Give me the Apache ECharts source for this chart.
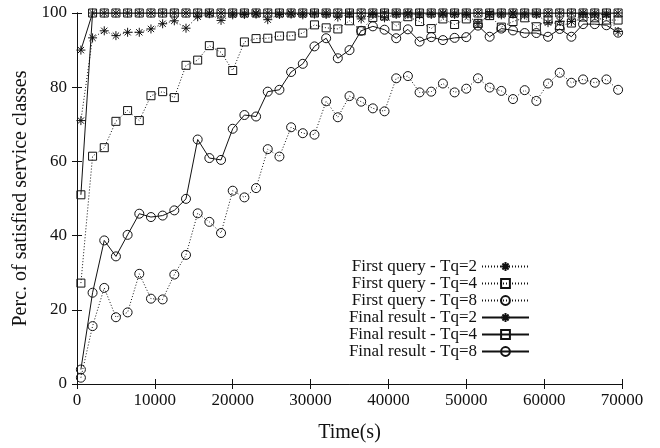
<!DOCTYPE html>
<html>
<head>
<meta charset="utf-8">
<script src="https://cdn.jsdelivr.net/npm/echarts@6/dist/echarts.min.js"></script>
<style>
  html, body { margin: 0; padding: 0; background: #fff; }
  #chart { width: 660px; height: 448px; }
</style>
</head>
<body>
<div id="chart"></div>
<script>
// sample times (s)
const times = [500, 2000, 3500, 5000, 6500, 8000, 9500, 11000, 12500, 14000, 15500, 17000, 18500, 20000,
  21500, 23000, 24500, 26000, 27500, 29000, 30500, 32000, 33500, 35000, 36500, 38000, 39500, 41000,
  42500, 44000, 45500, 47000, 48500, 50000, 51500, 53000, 54500, 56000, 57500, 59000, 60500, 62000,
  63500, 65000, 66500, 68000, 69500]

const firstTq2 = [71, 93.3, 95.2, 93.9, 94.8, 94.8, 95.7, 97.1, 97.9, 95.9, 99.0, 99.8, 98.0, 99.5,
  99.6, 99.7, 98.2, 99.6, 99.7, 99.5, 99.7, 99.6, 98.9, 99.7, 98.4, 99.6, 98.7, 99.6,
  99.7, 99.5, 99.6, 99.7, 99.6, 99.6, 97.2, 99.6, 99.5, 99.7, 99.5, 99.6, 97.4, 97.8,
  97.7, 99.6, 99.5, 99.6, 95.0]

const firstTq4 = [27.2, 61.4, 63.7, 70.8, 73.7, 71.0, 77.7, 78.8, 77.2, 85.9, 87.3, 91.2, 89.4, 84.5,
  92.2, 93.1, 93.2, 93.8, 93.8, 94.6, 96.8, 96.0, 95.7, 97.9, 95.2, 98.8, 99.2, 96.5,
  99.0, 97.7, 95.8, 98.4, 96.9, 98.4, 97.2, 99.3, 96.2, 97.7, 98.7, 96.3, 98.1, 96.6,
  97.3, 98.9, 98.7, 98.1, 98.1]

const firstTq8 = [1.7, 15.6, 25.9, 18.0, 19.3, 29.7, 23.0, 22.8, 29.5, 34.8, 46.0, 43.7, 40.7, 52.1,
  50.3, 52.8, 63.3, 61.3, 69.2, 67.6, 67.2, 76.2, 71.9, 77.6, 76.1, 74.3, 73.5, 82.4,
  83.0, 78.6, 78.8, 81.0, 78.6, 79.6, 82.4, 79.9, 79.0, 76.8, 79.2, 76.3, 81.0, 83.9,
  81.2, 82.1, 81.2, 82.1, 79.3]

const finalTq2 = [90, 100, 100, 100, 100, 100, 100, 100, 100, 100, 100, 100, 100, 100,
  100, 100, 100, 100, 100, 100, 100, 100, 100, 100, 100, 100, 100, 100,
  100, 100, 100, 100, 100, 100, 100, 100, 100, 100, 100, 100, 100, 100,
  100, 100, 100, 100, 100]

const finalTq4 = [51.0, 100, 100, 100, 100, 100, 100, 100, 100, 100, 100, 100, 100, 100,
  100, 100, 100, 100, 100, 100, 100, 100, 100, 100, 100, 100, 100, 100,
  100, 100, 100, 100, 100, 100, 100, 100, 100, 100, 100, 100, 100, 100,
  100, 100, 100, 100, 100]

const finalTq8 = [3.9, 24.6, 38.7, 34.4, 40.2, 45.9, 45.0, 45.4, 46.8, 49.9, 65.9, 60.9, 60.4, 68.8,
  72.5, 72.1, 78.8, 79.3, 84.1, 86.3, 91.0, 93.2, 87.8, 90.0, 95.2, 96.4, 95.5, 93.2,
  95.6, 92.3, 93.5, 92.7, 93.3, 93.5, 96.6, 93.6, 95.8, 95.3, 94.6, 94.6, 93.6, 95.7,
  93.6, 97.0, 97.0, 96.7, 94.7]

const FONT = '"Liberation Serif", "Times New Roman", serif'
const INK = '#111'
const STAR = 'path://M5,0L5,10M0,5L10,5M1.5,1.5L8.5,8.5M1.5,8.5L8.5,1.5'

const zip = (ys) => times.map((t, i) => [t, ys[i]])

const mkSeries = function (name, ys, symbol, size, dotted) {
  return {
    name: name,
    type: 'line',
    data: zip(ys),
    symbol: symbol,
    symbolSize: size,
    showAllSymbol: true,
    animation: false,
    lineStyle: { color: INK, width: 1, type: dotted ? [1, 2] : 'solid' },
    itemStyle: { color: 'rgba(0,0,0,0)', borderColor: INK, borderWidth: 1 },
    emphasis: { disabled: true },
  }
}

const mirrorAxis = {
  axisLine: { show: true, lineStyle: { color: INK, width: 1 } },
  axisTick: { show: true, inside: true, length: 5, lineStyle: { color: INK } },
  axisLabel: { show: false },
  splitLine: { show: false },
}

const option = {
  backgroundColor: '#fff',
  animation: false,
  textStyle: { fontFamily: FONT, color: INK },
  grid: { left: 77, right: 38, top: 13, bottom: 60 },
  legend: {
    orient: 'vertical',
    right: 130,
    top: 258,
    padding: 0,
    align: 'right',
    itemWidth: 47,
    itemHeight: 11,
    itemGap: 0,
    selectedMode: false,
    textStyle: { fontFamily: FONT, fontSize: 17, color: INK, lineHeight: 16.7 },
    data: ['First query - Tq=2', 'First query - Tq=4', 'First query - Tq=8',
      'Final result - Tq=2', 'Final result - Tq=4', 'Final result - Tq=8'],
  },
  xAxis: [
    {
      type: 'value',
      min: 0,
      max: 70000,
      interval: 10000,
      name: 'Time(s)',
      nameLocation: 'middle',
      nameGap: 39,
      nameTextStyle: { fontFamily: FONT, fontSize: 20, color: INK },
      axisLine: { show: true, lineStyle: { color: INK, width: 1 } },
      axisTick: { show: true, inside: true, length: 5, lineStyle: { color: INK } },
      axisLabel: { fontFamily: FONT, fontSize: 17, color: INK, margin: 8, formatter: (v) => String(v) },
      splitLine: { show: false },
    },
    Object.assign({ type: 'value', position: 'top', min: 0, max: 70000, interval: 10000 }, mirrorAxis),
  ],
  yAxis: [
    {
      type: 'value',
      min: 0,
      max: 100,
      interval: 20,
      name: 'Perc. of satisfied service classes',
      nameLocation: 'middle',
      nameGap: 46,
      nameTextStyle: { fontFamily: FONT, fontSize: 20, color: INK },
      axisLine: { show: true, lineStyle: { color: INK, width: 1 } },
      axisTick: { show: true, inside: true, length: 5, lineStyle: { color: INK } },
      axisLabel: { fontFamily: FONT, fontSize: 17, color: INK, margin: 10 },
      splitLine: { show: false },
    },
    Object.assign({ type: 'value', position: 'right', min: 0, max: 100, interval: 20 }, mirrorAxis),
  ],
  series: [
    mkSeries('First query - Tq=2', firstTq2, STAR, 9, true),
    mkSeries('First query - Tq=4', firstTq4, 'rect', 8, true),
    mkSeries('First query - Tq=8', firstTq8, 'circle', 9, true),
    mkSeries('Final result - Tq=2', finalTq2, STAR, 9, false),
    mkSeries('Final result - Tq=4', finalTq4, 'rect', 8, false),
    mkSeries('Final result - Tq=8', finalTq8, 'circle', 9, false),
  ],
}

const c = echarts.init(document.getElementById('chart'), null, { renderer: 'canvas' })
c.setOption(option)
</script>
</body>
</html>
